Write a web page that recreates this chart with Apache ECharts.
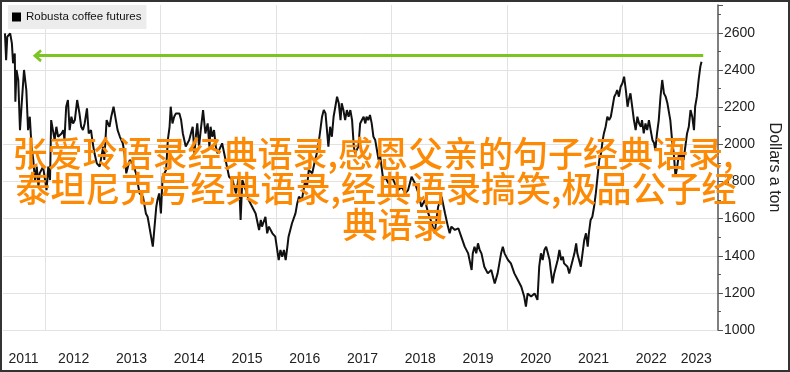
<!DOCTYPE html>
<html><head><meta charset="utf-8">
<script src="https://cdn.jsdelivr.net/npm/echarts@6/dist/echarts.min.js"></script>
<style>html,body{margin:0;padding:0;background:#fff}#c{width:790px;height:372px}</style>
</head><body><div id="c"></div>
<script>
// time in fractional years
const years = [
2011.31,2011.33,2011.35,2011.38,2011.40,2011.43,2011.45,2011.48,2011.49,2011.51,2011.54,2011.57,2011.60,2011.64,2011.68,2011.71,2011.74,2011.77,2011.80,2011.83,2011.86,2011.89,2011.91,2011.97,
2012.03,2012.06,2012.09,2012.11,2012.14,2012.17,2012.20,2012.23,2012.29,2012.32,2012.34,2012.37,2012.40,2012.43,2012.46,2012.49,2012.52,2012.56,2012.60,2012.63,2012.66,2012.69,2012.73,2012.76,2012.80,2012.83,2012.86,2012.90,2012.95,2012.98,
2013.01,2013.03,2013.07,2013.12,2013.15,2013.19,2013.24,2013.26,2013.30,2013.35,2013.38,2013.41,2013.47,2013.52,2013.58,2013.64,2013.70,2013.75,2013.78,2013.81,2013.84,2013.87,2013.90,2013.93,2013.95,2013.98,
2014.01,2014.04,2014.10,2014.13,2014.16,2014.18,2014.21,2014.24,2014.27,2014.33,2014.36,2014.39,2014.44,2014.50,2014.56,2014.59,2014.62,2014.64,2014.67,2014.70,2014.74,2014.78,2014.82,2014.85,2014.87,2014.90,2014.93,2014.96,2014.99,
2015.02,2015.07,2015.13,2015.19,2015.25,2015.31,2015.36,2015.39,2015.42,2015.48,2015.53,2015.59,2015.65,2015.71,2015.74,2015.76,2015.82,2015.85,2015.88,2015.94,2015.99,
2016.05,2016.08,2016.11,2016.14,2016.17,2016.20,2016.22,2016.28,2016.34,2016.37,2016.40,2016.45,2016.51,2016.54,2016.57,2016.63,2016.68,2016.71,2016.74,2016.77,2016.80,2016.83,2016.86,2016.89,2016.91,2016.94,2016.97,
2017.00,2017.03,2017.06,2017.09,2017.12,2017.14,2017.17,2017.20,2017.23,2017.26,2017.29,2017.32,2017.35,2017.37,2017.43,2017.46,2017.49,2017.52,2017.55,2017.57,2017.60,2017.63,2017.66,2017.69,2017.72,2017.75,2017.78,2017.80,2017.83,2017.86,2017.89,2017.95,
2018.01,2018.06,2018.12,2018.18,2018.24,2018.29,2018.35,2018.41,2018.47,2018.52,2018.58,2018.64,2018.70,2018.75,2018.81,2018.87,2018.93,2018.98,
2019.01,2019.04,2019.10,2019.16,2019.21,2019.27,2019.33,2019.39,2019.41,2019.44,2019.47,2019.50,2019.53,2019.56,2019.61,2019.67,2019.73,2019.79,2019.84,2019.90,2019.93,2019.96,
2020.02,2020.07,2020.13,2020.19,2020.25,2020.30,2020.33,2020.36,2020.42,2020.48,2020.53,2020.56,2020.59,2020.62,2020.65,2020.68,2020.71,2020.74,2020.76,2020.79,2020.82,2020.85,2020.88,2020.91,2020.94,2020.97,2020.99,
2021.05,2021.08,2021.11,2021.17,2021.20,2021.22,2021.25,2021.28,2021.31,2021.34,2021.37,2021.40,2021.42,2021.45,2021.48,2021.51,2021.54,2021.57,2021.60,2021.63,2021.66,2021.68,2021.71,2021.74,2021.77,2021.80,2021.83,2021.86,2021.89,2021.91,2021.94,2021.97,
2022.00,2022.03,2022.06,2022.09,2022.11,2022.14,2022.17,2022.20,2022.23,2022.26,2022.29,2022.32,2022.34,2022.37,2022.40,2022.43,2022.46,2022.49,2022.52,2022.55,2022.57,2022.60,2022.63,2022.66,2022.69,2022.72,2022.75,2022.78,2022.80,2022.83,2022.86,2022.89,2022.92,2022.95,2022.98,
2023.01,2023.03,2023.06,2023.09,2023.12,2023.15,2023.18,2023.21,2023.24,2023.26,2023.29,2023.32,2023.35,2023.37
];
// dollars a ton
const prices = [
2598,2454,2580,2589,2598,2544,2437,2490,2230,2401,2347,2077,2221,2401,2293,2077,2149,1988,1916,1808,1880,1772,1844,1880,
1754,1880,1808,2131,2077,2024,2095,2041,2059,2077,2024,2203,2239,2077,2149,2113,2131,2239,2167,2095,2077,2113,2194,2059,2077,2006,1952,1898,1880,1934,
1988,1916,2131,2095,2149,2203,2113,2077,2041,2006,1952,1844,1916,1898,1844,1736,1718,1628,1610,1557,1503,1449,1557,1664,1700,1736,
1628,1826,1862,2024,2095,2203,2113,2149,2167,2167,2131,2059,1988,2024,2095,1952,2059,2113,1988,2077,2185,2059,2113,1988,2095,2041,2077,1988,1952,
1970,2006,1916,1826,1808,1736,1826,1593,1808,1754,1700,1664,1628,1539,1593,1557,1610,1521,1557,1521,1503,
1377,1431,1395,1431,1377,1449,1503,1575,1628,1682,1718,1700,1808,1772,1862,1844,1916,1952,2006,2077,2149,2185,2167,2059,1988,2095,2041,
2149,2203,2257,2221,2131,2221,2185,2131,2185,2149,2185,2131,1988,1952,1988,2113,2131,2149,2113,2149,2131,2158,2113,2041,2024,1970,1916,1952,1880,1808,1826,1790,
1826,1790,1754,1772,1736,1754,1826,1790,1736,1664,1700,1628,1575,1521,1664,1718,1628,1557,
1521,1557,1539,1548,1503,1449,1413,1323,1413,1449,1413,1467,1431,1413,1341,1305,1323,1251,1305,1413,1449,1413,
1377,1359,1305,1269,1233,1180,1126,1197,1180,1197,1162,1341,1413,1377,1431,1449,1413,1377,1323,1251,1305,1341,1377,1431,1377,1395,1359,
1341,1305,1341,1413,1467,1413,1377,1341,1413,1485,1521,1449,1521,1593,1610,1664,1736,1826,1916,1952,2024,2059,2095,2149,2131,2149,2203,2257,2275,2293,2257,2311,
2329,2365,2293,2203,2239,2275,2203,2131,2077,2149,2113,2095,2131,2059,2113,2077,2131,2077,2024,2006,1970,2059,2131,2257,2347,2275,2257,2221,2185,2131,2024,1952,1826,1880,1952,
1916,1952,1916,1988,2059,2095,2185,2149,2077,2203,2257,2347,2419,2445
];
const yearLabels = [2011.63,2012.5,2013.5,2014.5,2015.5,2016.5,2017.5,2018.5,2019.5,2020.5,2021.5,2022.5,2023.28];
const gridYears = [2012,2014,2016,2018,2020,2022];
const arrowYears = [2011.87, 2023.40];
const arrowLevel = 2478;
const seriesName = 'Robusta coffee futures';
const axisName = 'Dollars a ton';
const overlayLines = ['张爱玲语录经典语录,感恩父亲的句子经典语录,', '泰坦尼克号经典语录,经典语录搞笑,极品公子经', '典语录'];

const chart = echarts.init(document.getElementById('c'));
const overlayPos = [[373,154],[376,189],[395,225]];
chart.setOption({
  animation: false,
  backgroundColor: '#fff',
  textStyle: { fontFamily: 'Liberation Sans' },
  grid: { left: 3, right: 69, top: 5, bottom: 42, containLabel: false },
  legend: {
    left: 8, top: 5, backgroundColor: '#ececec', padding: [6, 5, 6, 4],
    icon: 'rect', itemWidth: 9, itemHeight: 9,
    textStyle: { fontSize: 11.5, color: '#111' },
    data: [seriesName]
  },
  xAxis: {
    type: 'value', min: 2011.276, max: 2023.655,
    axisLine: { show: false },
    axisTick: { show: false, customValues: gridYears },
    splitLine: { show: true, lineStyle: { color: '#e2e2e2', width: 1 } },
    axisLabel: { customValues: yearLabels, formatter: v => String(Math.floor(v)), fontSize: 14, color: '#222', margin: 22 }
  },
  yAxis: {
    type: 'value', position: 'right', min: 1000, max: 2751, interval: 200,
    axisLine: { show: true, lineStyle: { color: '#555', width: 1.5 } },
    axisTick: { show: true, length: 5, lineStyle: { color: '#555' } },
    minorTick: { show: true, splitNumber: 2, length: 3, lineStyle: { color: '#555' } },
    splitLine: { show: true, showMaxLine: false, lineStyle: { color: '#e2e2e2', width: 1 } },
    axisLabel: { showMaxLabel: false, margin: 6, fontSize: 14, color: '#222', formatter: v => String(v) },
    name: axisName, nameLocation: 'middle', nameRotate: -90, nameGap: 37,
    nameTextStyle: { fontSize: 16, color: '#222' }
  },
  series: [{
    type: 'line', name: seriesName,
    data: years.map((y, i) => [y, prices[i]]),
    symbol: 'none', showSymbol: false,
    lineStyle: { color: '#111', width: 2 },
    itemStyle: { color: '#000' },
    emphasis: { disabled: true },
    markLine: {
      silent: true, animation: false,
      symbol: ['path://M5,0 L10,8 L8.2,9.6 L5,4.8 L1.8,9.6 L0,8 Z', 'none'],
      symbolSize: [13, 9],
      label: { show: false },
      lineStyle: { color: '#7cc520', width: 3, type: 'solid' },
      data: [[{ coord: [arrowYears[0], arrowLevel] }, { coord: [arrowYears[1], arrowLevel] }]]
    }
  }],
  graphic: overlayLines.map((t, i) => ({
    type: 'text', x: overlayPos[i][0], y: overlayPos[i][1], z: 50, silent: true,
    style: { text: t, fill: '#fd8a05', font: '500 35px "Noto Sans CJK SC"', align: 'center', verticalAlign: 'middle' }
  })).concat([{
    type: 'rect', z: 100, silent: true,
    shape: { x: 1, y: 1, width: 788, height: 370 },
    style: { fill: 'none', stroke: '#333', lineWidth: 2 }
  }])
});
</script></body></html>
